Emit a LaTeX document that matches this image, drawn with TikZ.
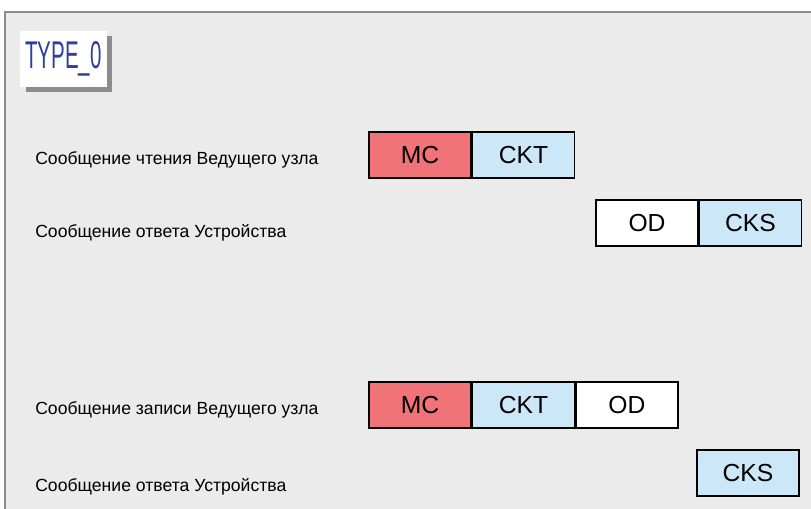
\documentclass[tikz,border=0pt]{standalone}
\usepackage{fontspec}
\setmainfont{Liberation Sans}
\newfontfamily\tynarrow[FakeStretch=0.53]{Liberation Sans}
\usetikzlibrary{positioning,shadows}
\definecolor{tyFrame}{HTML}{8C8C8C}
\definecolor{tyBg}{HTML}{EBEBEB}
\definecolor{tyRed}{HTML}{F07378}
\definecolor{tyBlue}{HTML}{CCE8F8}
\definecolor{tyTitle}{HTML}{2E3F9E}
\tikzset{
  % message field
  field/.style={rectangle,draw=black,line width=1.1pt,
    minimum width=76.5pt,minimum height=34.5pt,inner sep=0pt,
    font=\fontsize{18.5}{20}\selectfont,fill=white},
  mcfield/.style={field,fill=tyRed},
  ckfield/.style={field,fill=tyBlue},
  odfield/.style={field,fill=white},
  % row caption
  lbl/.style={anchor=west,font=\fontsize{13.2}{15}\selectfont,inner sep=0pt},
}
\begin{document}
\begin{tikzpicture}[x=0.75pt,y=-0.75pt]
  \useasboundingbox (0,0) rectangle (811,508);
  \fill[white] (0,0) rectangle (811,508);
  \draw[draw=tyFrame,fill=tyBg,line width=1.5pt] (5,12) rectangle (818,515);

  %% --- title ---
  \node[fill=white,minimum width=65pt,minimum height=42pt,inner sep=0pt,
    text=tyTitle,font=\tynarrow\fontsize{29}{32}\selectfont,
    drop shadow={shadow xshift=4pt,shadow yshift=-4pt,fill=tyFrame,opacity=1}]
    (title) at (63.5,58.5) {TYPE\_0};

  %% --- read ---
  \node[lbl] (readlbl) at (35,160) {Сообщение чтения Ведущего узла};
  \node[mcfield] (rmc) at (420,155) {MC};
  \node[ckfield,right=0pt of rmc] (rckt) {CKT};

  \node[lbl] (rresplbl) at (35,233) {Сообщение ответа Устройства};
  \node[odfield] (rod) at (647,223) {OD};
  \node[ckfield,right=0pt of rod] (rcks) {CKS};

  %% --- write ---
  \node[lbl] (writelbl) at (35,410) {Сообщение записи Ведущего узла};
  \node[mcfield] (wmc) at (420,405) {MC};
  \node[ckfield,right=0pt of wmc] (wckt) {CKT};
  \node[odfield,right=0pt of wckt] (wod) {OD};

  \node[lbl] (wresplbl) at (35,487) {Сообщение ответа Устройства};
  \node[ckfield] (wcks) at (748,473) {CKS};
\end{tikzpicture}
\end{document}
